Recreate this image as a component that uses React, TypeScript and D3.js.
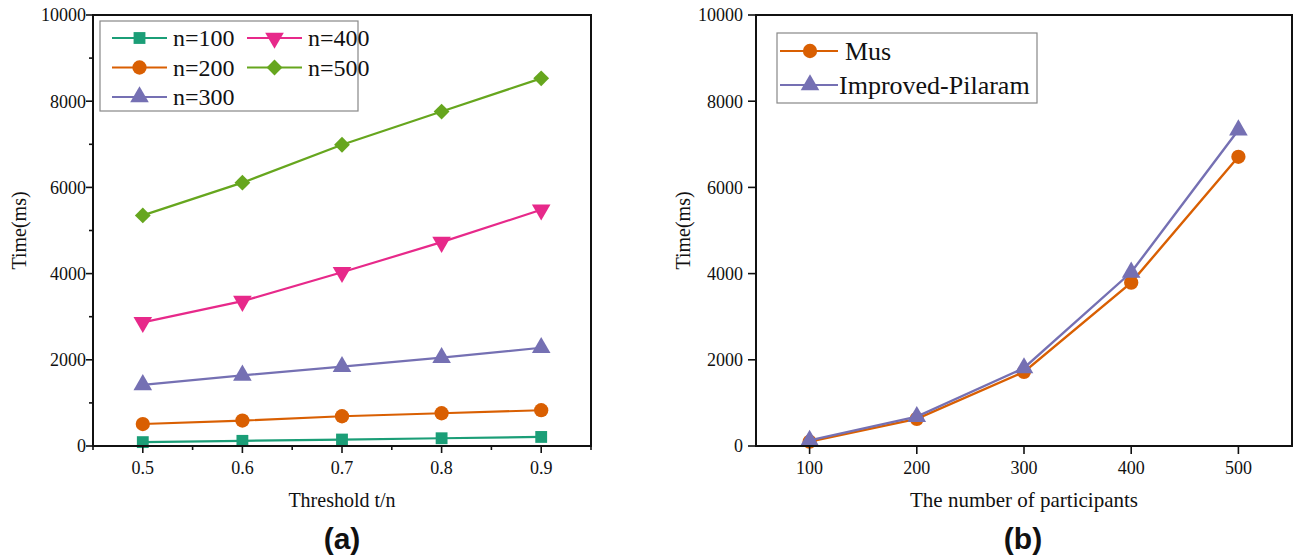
import React from "react";
import * as d3 from "d3";

// ---------- data ----------
const thresholds = [0.5, 0.6, 0.7, 0.8, 0.9];
const seriesNames = ["n=100", "n=200", "n=300", "n=400", "n=500"];
const n100 = [90, 120, 150, 180, 210];
const n200 = [510, 590, 690, 760, 830];
const n300 = [1420, 1640, 1840, 2050, 2280];
const n400 = [2870, 3360, 4030, 4730, 5480];
const n500 = [5350, 6110, 6990, 7760, 8530];
const seriesColors = ["#1b9e77", "#d95f02", "#7570b3", "#e7298a", "#66a61e"];
const seriesShapes = ["square", "circle", "triangle", "triangleDown", "diamond"];

const participants = [100, 200, 300, 400, 500];
const musValues = [100, 630, 1720, 3790, 6710];
const pilaramValues = [130, 680, 1810, 4030, 7330];
const rightNames = ["Mus", "Improved-Pilaram"];
const rightColors = ["#d95f02", "#7570b3"];
const rightShapes = ["circle", "triangle"];

const yTicks = [0, 2000, 4000, 6000, 8000, 10000];
const yMinorTicks = [1000, 3000, 5000, 7000, 9000];
const xTicksLeft = [0.5, 0.6, 0.7, 0.8, 0.9];
const xMinorLeft = [0.45, 0.55, 0.65, 0.75, 0.85, 0.95];
const xTicksRight = [100, 200, 300, 400, 500];

const SERIF = "'Liberation Serif', 'Times New Roman', serif";
const SANS = "'Liberation Sans', Arial, sans-serif";

function Marker({ shape, x, y, color, size }: { shape: string; x: number; y: number; color: string; size: number }) {
  const symMap: Record<string, any> = {
    square: d3.symbolSquare,
    circle: d3.symbolCircle,
    triangle: d3.symbolTriangle,
    triangleDown: d3.symbolTriangle,
    diamond: d3.symbolSquare,
  };
  const path = d3.symbol().type(symMap[shape]).size(size)() as string;
  let transform = `translate(${x},${y})`;
  if (shape === "triangleDown") transform += " rotate(180)";
  if (shape === "diamond") transform += " rotate(45)";
  return <path d={path} transform={transform} fill={color} />;
}

const markerSize: Record<string, number> = {
  square: 140,
  circle: 160,
  triangle: 150,
  triangleDown: 150,
  diamond: 125,
};

export default function App() {
  // ----- left panel -----
  const L = { left: 93, right: 591, top: 15, bottom: 446 };
  const xL = d3.scaleLinear().domain([0.45, 0.95]).range([L.left, L.right]);
  const yL = d3.scaleLinear().domain([0, 10000]).range([L.bottom, L.top]);
  const leftData = [n100, n200, n300, n400, n500];
  const lineL = d3
    .line<number>()
    .x((_, i) => xL(thresholds[i]))
    .y((d) => yL(d));

  // ----- right panel -----
  const R = { left: 756, right: 1292, top: 15, bottom: 446 };
  const xR = d3.scaleLinear().domain([50, 550]).range([R.left, R.right]);
  const yR = d3.scaleLinear().domain([0, 10000]).range([R.bottom, R.top]);
  const rightData = [musValues, pilaramValues];
  const lineR = d3
    .line<number>()
    .x((_, i) => xR(participants[i]))
    .y((d) => yR(d));

  const axisColor = "#111";

  return (
    <svg
      width={1301}
      height={555}
      style={{ position: "absolute", left: 0, top: 0, background: "#fff" }}
      fontFamily={SERIF}
    >
      <rect x={0} y={0} width={1301} height={555} fill="#fff" />

      {/* ================= LEFT PANEL ================= */}
      <g>
        {leftData.map((vals, si) => (
          <g key={si}>
            <path d={lineL(vals) as string} fill="none" stroke={seriesColors[si]} strokeWidth={2.2} />
            {vals.map((v, i) => (
              <Marker
                key={i}
                shape={seriesShapes[si]}
                x={xL(thresholds[i])}
                y={yL(v)}
                color={seriesColors[si]}
                size={markerSize[seriesShapes[si]]}
              />
            ))}
          </g>
        ))}
        <rect x={L.left} y={L.top} width={L.right - L.left} height={L.bottom - L.top} fill="none" stroke={axisColor} strokeWidth={2} />
        {yTicks.map((t) => (
          <g key={t}>
            <line x1={L.left - 7} x2={L.left} y1={yL(t)} y2={yL(t)} stroke={axisColor} strokeWidth={1.6} />
            <text x={L.left - 7} y={yL(t)} dy="0.35em" textAnchor="end" fontSize={18} fill="#111">
              {t}
            </text>
          </g>
        ))}
        {yMinorTicks.map((t) => (
          <line key={t} x1={L.left - 4} x2={L.left} y1={yL(t)} y2={yL(t)} stroke={axisColor} strokeWidth={1.6} />
        ))}
        {xTicksLeft.map((t) => (
          <g key={t}>
            <line x1={xL(t)} x2={xL(t)} y1={L.bottom} y2={L.bottom + 7} stroke={axisColor} strokeWidth={1.6} />
            <text x={xL(t)} y={L.bottom + 22} dy="0.35em" textAnchor="middle" fontSize={18} fill="#111">
              {t.toFixed(1)}
            </text>
          </g>
        ))}
        {xMinorLeft.map((t) => (
          <line key={t} x1={xL(t)} x2={xL(t)} y1={L.bottom} y2={L.bottom + 4} stroke={axisColor} strokeWidth={1.6} />
        ))}
        <text x={(L.left + L.right) / 2} y={500} dy="0.35em" textAnchor="middle" fontSize={20} fill="#111">
          Threshold t/n
        </text>
        <text transform={`translate(19,${(L.top + L.bottom) / 2}) rotate(-90)`} textAnchor="middle" dy="0.35em" fontSize={20} fill="#111">
          Time(ms)
        </text>
        <text x={342} y={538} dy="0.35em" textAnchor="middle" fontSize={30} fontWeight="bold" fontFamily={SANS} fill="#111">
          (a)
        </text>
        {/* legend */}
        <rect x={100} y={21} width={258} height={90} fill="#fff" stroke="#888" strokeWidth={1.2} />
        {seriesNames.map((name, si) => {
          const col = si < 3 ? 0 : 1;
          const row = si < 3 ? si : si - 3;
          const lx = col === 0 ? 112 : 247;
          const ly = 38 + row * 29.5;
          return (
            <g key={name}>
              <line x1={lx} x2={lx + 55} y1={ly} y2={ly} stroke={seriesColors[si]} strokeWidth={2.2} />
              <Marker shape={seriesShapes[si]} x={lx + 27.5} y={ly} color={seriesColors[si]} size={markerSize[seriesShapes[si]]} />
              <text x={lx + 61} y={ly} dy="0.35em" fontSize={24} fill="#111">
                {name}
              </text>
            </g>
          );
        })}
      </g>

      {/* ================= RIGHT PANEL ================= */}
      <g>
        {rightData.map((vals, si) => (
          <g key={si}>
            <path d={lineR(vals) as string} fill="none" stroke={rightColors[si]} strokeWidth={2.4} />
            {vals.map((v, i) => (
              <Marker
                key={i}
                shape={rightShapes[si]}
                x={xR(participants[i])}
                y={yR(v)}
                color={rightColors[si]}
                size={markerSize[rightShapes[si]]}
              />
            ))}
          </g>
        ))}
        <rect x={R.left} y={R.top} width={R.right - R.left} height={R.bottom - R.top} fill="none" stroke={axisColor} strokeWidth={2} />
        {yTicks.map((t) => (
          <g key={t}>
            <line x1={R.left - 8} x2={R.left} y1={yR(t)} y2={yR(t)} stroke={axisColor} strokeWidth={1.6} />
            <text x={R.left - 13} y={yR(t)} dy="0.35em" textAnchor="end" fontSize={18} fill="#111">
              {t}
            </text>
          </g>
        ))}
        {xTicksRight.map((t) => (
          <g key={t}>
            <line x1={xR(t)} x2={xR(t)} y1={R.bottom} y2={R.bottom + 8} stroke={axisColor} strokeWidth={1.6} />
            <text x={xR(t)} y={R.bottom + 22} dy="0.35em" textAnchor="middle" fontSize={18} fill="#111">
              {t}
            </text>
          </g>
        ))}
        <text x={(R.left + R.right) / 2} y={500} dy="0.35em" textAnchor="middle" fontSize={21} fill="#111">
          The number of participants
        </text>
        <text transform={`translate(683,${(R.top + R.bottom) / 2}) rotate(-90)`} textAnchor="middle" dy="0.35em" fontSize={20} fill="#111">
          Time(ms)
        </text>
        <text x={1023} y={538} dy="0.35em" textAnchor="middle" fontSize={30} fontWeight="bold" fontFamily={SANS} fill="#111">
          (b)
        </text>
        {/* legend */}
        <rect x={777} y={33} width={260} height={70} fill="#fff" stroke="#888" strokeWidth={1.2} />
        {rightNames.map((name, si) => {
          const lx = 780;
          const ly = 51 + si * 34;
          return (
            <g key={name}>
              <line x1={lx} x2={lx + 58} y1={ly} y2={ly} stroke={rightColors[si]} strokeWidth={2.2} />
              <Marker shape={rightShapes[si]} x={lx + 30} y={ly} color={rightColors[si]} size={markerSize[rightShapes[si]]} />
              <text x={si === 0 ? lx + 65 : lx + 59} y={ly} dy="0.35em" fontSize={26} fill="#111">
                {name}
              </text>
            </g>
          );
        })}
      </g>
    </svg>
  );
}
